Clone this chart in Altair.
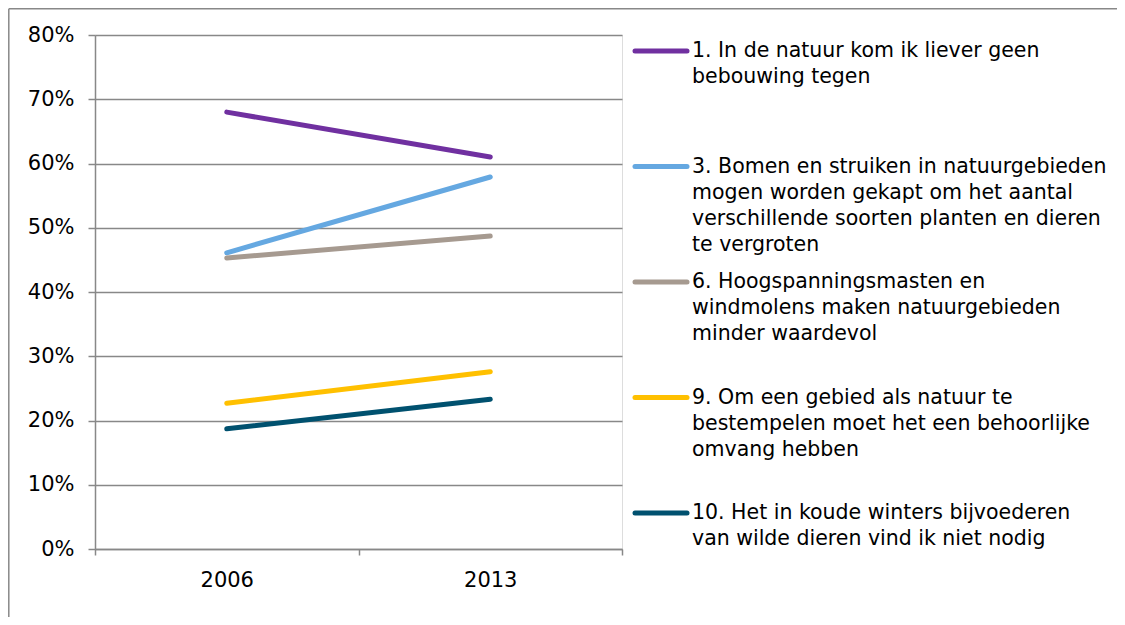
import altair as alt
import pandas as pd

# ---- data ----
years = ["2006", "2013"]
series_keys = ["s1", "s3", "s6", "s9", "s10"]
series_labels = [
    "1. In de natuur kom ik liever geen\nbebouwing tegen",
    "3. Bomen en struiken in natuurgebieden\nmogen worden gekapt om het aantal\nverschillende soorten planten en dieren\nte vergroten",
    "6. Hoogspanningsmasten en\nwindmolens maken natuurgebieden\nminder waardevol",
    "9. Om een gebied als natuur te\nbestempelen moet het een behoorlijke\nomvang hebben",
    "10. Het in koude winters bijvoederen\nvan wilde dieren vind ik niet nodig",
]
s1 = [0.680, 0.610]
s3 = [0.461, 0.579]
s6 = [0.453, 0.487]
s9 = [0.227, 0.276]
s10 = [0.187, 0.233]
series_values = [s1, s3, s6, s9, s10]
colors = ["#7030A0", "#65A8E1", "#A69A90", "#FFC000", "#00516F"]
y_ticks = [0, 0.1, 0.2, 0.3, 0.4, 0.5, 0.6, 0.7, 0.8]

rows = []
for key, vals in zip(series_keys, series_values):
    for yr, v in zip(years, vals):
        rows.append({"series": key, "year": yr, "value": v})
df = pd.DataFrame(rows)
legend_df = pd.DataFrame({
    "series": series_keys,
    "label": series_labels,
    "pos": list(range(len(series_keys))),
})

W, H = 527, 514
PL, PT, PR, PB = 87, 27, 495, 68
GRAY = "#888888"
FONT = "DejaVu Sans"

color_scale = alt.Scale(domain=series_keys, range=colors)

lines = alt.Chart(df).mark_line(strokeWidth=5, strokeCap="round").encode(
    x=alt.X(
        "year:N",
        sort=years,
        scale=alt.Scale(type="band", paddingInner=0, paddingOuter=0),
        axis=alt.Axis(
            title=None, labelAngle=0, tickBand="extent", tickSize=6,
            tickColor=GRAY, tickWidth=1.5, domainColor=GRAY, domainWidth=1.5,
            labelPadding=14, labelFontSize=21, labelColor="#000000",
            labelFont=FONT, grid=False,
        ),
    ),
    y=alt.Y(
        "value:Q",
        scale=alt.Scale(domain=[0, 0.8], nice=False),
        axis=alt.Axis(
            title=None, values=y_ticks, format=".0%", tickSize=7,
            tickColor=GRAY, tickWidth=1.5, domainColor=GRAY, domainWidth=1.5,
            gridColor=GRAY, gridWidth=1.5, labelPadding=14, labelFontSize=21,
            labelColor="#000000", labelFont=FONT,
        ),
    ),
    color=alt.Color("series:N", scale=color_scale, legend=None),
    detail="series:N",
)

legend_y = alt.Scale(domain=[0, 4], range=[16, 478], nice=False, zero=False)

leg_sym = alt.Chart(legend_df).mark_rule(strokeWidth=5, strokeCap="round").encode(
    x=alt.value(540),
    x2=alt.value(592),
    y=alt.Y("pos:Q", scale=legend_y, axis=None),
    color=alt.Color("series:N", scale=color_scale, legend=None),
)

leg_txt = alt.Chart(legend_df).mark_text(
    align="left", baseline="top", dy=-10, fontSize=20.5, lineHeight=26,
    lineBreak="\n", font=FONT, color="#000000",
).encode(
    x=alt.value(597),
    y=alt.Y("pos:Q", scale=legend_y, axis=None),
    text="label:N",
)

frame_df = pd.DataFrame({"k": [0]})
frame_left = alt.Chart(frame_df).mark_rule(color=GRAY, strokeWidth=1.5).encode(
    x=alt.value(-86.2), y=alt.value(-26.2), y2=alt.value(H + PB)
)
frame_top = alt.Chart(frame_df).mark_rule(color=GRAY, strokeWidth=1.5).encode(
    x=alt.value(-86.2), x2=alt.value(W + PR), y=alt.value(-26.2)
)

chart = (
    alt.layer(lines, leg_sym, leg_txt, frame_left, frame_top)
    .resolve_scale(y="independent")
    .properties(
        width=W, height=H,
        autosize=alt.AutoSizeParams(type="none"),
        padding={"left": PL, "top": PT, "right": PR, "bottom": PB},
    )
    .configure_view(stroke=None)
    .configure(font=FONT)
)

chart.save("out.html", embed_options={"renderer": "svg", "actions": False})
